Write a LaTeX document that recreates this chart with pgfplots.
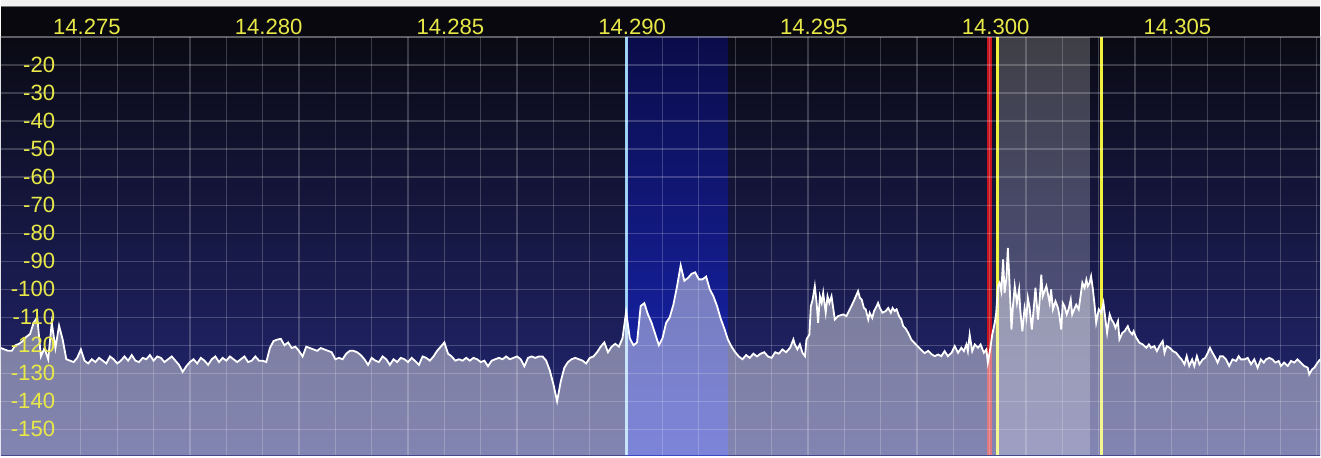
\documentclass[border=0pt]{standalone}
\usepackage{pgfplots}
\pgfplotsset{compat=1.18}
\usepackage{pgfplotstable}
\usepackage{fontspec}
\setmainfont{Liberation Sans}
\definecolor{lab}{RGB}{232,232,72}
\definecolor{bgtop}{RGB}{10,10,20}
\definecolor{bgmid}{RGB}{22,24,70}
\definecolor{bgbot}{RGB}{36,40,120}
\definecolor{btop}{RGB}{10,12,72}
\definecolor{bmid}{RGB}{18,28,150}
\definecolor{bbot}{RGB}{26,40,190}
\definecolor{hdr}{RGB}{8,8,14}
\definecolor{lblue}{RGB}{150,205,245}
\definecolor{mred}{RGB}{200,20,30}
\definecolor{myel}{RGB}{240,240,60}

\pgfplotstableread{
f db
14272.8 -121
14272.9 -121.5
14273.0 -122
14273.1 -122
14273.2 -120
14273.3 -119.5
14273.4 -118.5
14273.5 -117
14273.6 -116
14273.7 -112
14273.8 -110
14273.9 -124
14274.0 -121
14274.1 -125
14274.2 -112
14274.3 -121
14274.4 -113
14274.5 -118
14274.6 -125
14274.7 -125.5
14274.8 -126
14274.9 -124.5
14275.0 -121.5
14275.1 -125.5
14275.2 -126.5
14275.3 -125
14275.4 -126
14275.5 -124.5
14275.6 -125.5
14275.7 -126.5
14275.8 -124
14275.9 -125
14276.0 -126.5
14276.1 -125.5
14276.2 -124
14276.3 -125.5
14276.4 -123.5
14276.5 -125.5
14276.6 -126
14276.7 -124.5
14276.8 -125
14276.9 -123.5
14277.0 -125.5
14277.1 -124
14277.2 -124.5
14277.3 -126
14277.4 -125
14277.5 -124
14277.6 -125.5
14277.7 -127
14277.8 -129.5
14277.9 -127.5
14278.0 -126
14278.1 -125
14278.2 -126.5
14278.3 -124.5
14278.4 -125.5
14278.5 -127
14278.6 -125
14278.7 -124
14278.8 -126
14278.9 -124.5
14279.0 -125.5
14279.1 -124
14279.2 -125
14279.3 -126
14279.4 -125
14279.5 -124
14279.6 -126
14279.7 -125.5
14279.8 -124
14279.9 -125.5
14280.0 -125.5
14280.1 -126
14280.2 -121
14280.3 -118.5
14280.4 -118
14280.5 -117.7
14280.6 -120
14280.7 -119
14280.8 -121
14280.9 -120.5
14281.0 -122
14281.1 -124
14281.2 -120.5
14281.3 -121
14281.4 -121.5
14281.5 -122
14281.6 -121
14281.7 -121.5
14281.8 -122
14281.9 -122.5
14282.0 -125
14282.1 -124.5
14282.2 -125
14282.3 -123
14282.4 -122
14282.5 -122
14282.6 -122.5
14282.7 -123.5
14282.8 -125
14282.9 -127
14283.0 -124.5
14283.1 -125.5
14283.2 -126
14283.3 -124
14283.4 -125
14283.5 -127
14283.6 -125
14283.7 -126
14283.8 -124.5
14283.9 -125
14284.0 -126
14284.1 -124.5
14284.2 -125.7
14284.3 -127
14284.4 -124
14284.5 -124.5
14284.6 -125.5
14284.7 -124
14284.8 -122
14284.9 -120.5
14285.0 -119
14285.1 -123
14285.2 -124
14285.3 -125.5
14285.4 -125
14285.5 -125.5
14285.6 -124.5
14285.7 -125.5
14285.8 -124.5
14285.9 -125
14286.0 -126
14286.1 -125.5
14286.2 -127.5
14286.3 -125.5
14286.4 -125
14286.5 -124.5
14286.6 -125
14286.7 -124
14286.8 -125
14286.9 -124.5
14287.0 -124
14287.1 -125
14287.2 -127.5
14287.3 -124.5
14287.4 -124
14287.5 -124.5
14287.6 -124
14287.7 -124
14287.8 -125.5
14287.9 -129
14288.0 -134
14288.1 -140
14288.2 -133
14288.3 -128
14288.4 -126
14288.5 -125
14288.6 -124.5
14288.7 -125
14288.8 -125.5
14288.9 -126.5
14289.0 -124.5
14289.1 -124
14289.2 -122.5
14289.3 -120.5
14289.4 -119
14289.5 -122.5
14289.6 -120.5
14289.7 -119.5
14289.8 -120.5
14289.9 -117.5
14290.0 -108
14290.1 -117.5
14290.2 -120
14290.3 -119
14290.4 -106
14290.5 -105
14290.6 -109
14290.7 -112
14290.8 -116
14290.9 -120
14291.0 -117.5
14291.1 -112
14291.2 -110
14291.3 -105.5
14291.4 -99
14291.5 -91.5
14291.6 -97
14291.7 -96
14291.8 -94.5
14291.9 -94
14292.0 -96.5
14292.1 -96.5
14292.2 -95.5
14292.3 -100
14292.4 -102.5
14292.5 -106
14292.6 -110.5
14292.7 -114
14292.8 -118
14292.9 -120.5
14293.0 -122.5
14293.1 -124
14293.2 -125
14293.3 -123.5
14293.4 -124.5
14293.5 -123
14293.6 -124
14293.7 -123
14293.8 -122.5
14293.9 -124
14294.0 -124.5
14294.1 -122.5
14294.2 -123
14294.3 -121.5
14294.4 -122.5
14294.51 -120.9
14294.60 -117.9
14294.64 -119.7
14294.71 -121.5
14294.78 -119.7
14294.85 -122.7
14294.92 -123.9
14294.96 -117.9
14295.04 -116.2
14295.08 -106.1
14295.13 -103.7
14295.19 -98.9
14295.24 -104.9
14295.28 -112
14295.33 -102.5
14295.38 -104.9
14295.42 -101.3
14295.49 -108.4
14295.54 -102.5
14295.59 -104.9
14295.65 -102.5
14295.70 -107.2
14295.74 -110.8
14295.83 -109.6
14295.97 -109
14296.06 -109.6
14296.17 -106.7
14296.26 -104.3
14296.32 -102.5
14296.38 -100.7
14296.43 -103.1
14296.48 -103.7
14296.54 -106.7
14296.59 -107.2
14296.66 -110.8
14296.70 -108.4
14296.77 -110.2
14296.82 -107.8
14296.89 -106.1
14296.93 -104.9
14296.98 -106.7
14297.05 -108.4
14297.14 -107.8
14297.21 -106.7
14297.28 -108.4
14297.33 -106.7
14297.39 -107.8
14297.44 -107.2
14297.51 -109.7
14297.57 -110.8
14297.62 -113.1
14297.69 -114.1
14297.76 -115.6
14297.85 -118.1
14297.94 -119.3
14298.03 -120.5
14298.12 -121.7
14298.21 -122.8
14298.31 -122.0
14298.40 -123.2
14298.49 -123.9
14298.58 -123.3
14298.67 -123.9
14298.76 -122.1
14298.85 -123.9
14298.95 -122.7
14299.04 -120.3
14299.13 -122.7
14299.22 -120.9
14299.29 -122.1
14299.36 -119.7
14299.40 -122.1
14299.45 -116.2
14299.52 -122.1
14299.59 -119.7
14299.68 -120.9
14299.75 -119.7
14299.84 -122.7
14299.91 -121.5
14299.95 -126.2
14300.02 -120.9
14300.07 -116.2
14300.14 -112
14300.18 -108.4
14300.23 -98.9
14300.27 -97.8
14300.32 -100.7
14300.37 -89.4
14300.41 -101.3
14300.46 -96
14300.50 -85.3
14300.55 -98.9
14300.60 -114.4
14300.64 -106.1
14300.69 -98.9
14300.75 -104.9
14300.81 -100.1
14300.84 -107.2
14300.90 -115
14300.96 -106.7
14301.01 -110.2
14301.05 -103.1
14301.10 -106.7
14301.16 -114.4
14301.21 -107.2
14301.26 -99.5
14301.33 -110.8
14301.37 -104.9
14301.42 -94.8
14301.46 -102.5
14301.56 -98.9
14301.65 -104.9
14301.69 -100.1
14301.74 -107.2
14301.81 -104.3
14301.88 -106.7
14301.92 -109.6
14301.97 -114.4
14302.01 -104.9
14302.06 -106.1
14302.12 -109
14302.18 -106.7
14302.23 -103.7
14302.27 -109
14302.34 -106.7
14302.38 -105.5
14302.45 -107.2
14302.50 -102.5
14302.55 -97.7
14302.61 -99.5
14302.66 -96.6
14302.70 -98.9
14302.75 -97.7
14302.79 -95.4
14302.84 -100.1
14302.89 -106.1
14302.93 -112
14303.00 -107.2
14303.07 -108.4
14303.13 -104.9
14303.19 -111.4
14303.23 -115.6
14303.30 -109
14303.35 -110.8
14303.41 -112
14303.46 -113.8
14303.53 -111.4
14303.57 -117.9
14303.65 -115.6
14303.71 -115
14303.80 -113.2
14303.85 -115
14303.92 -116.1
14303.96 -115
14304.03 -117.3
14304.12 -119.1
14304.21 -119.7
14304.31 -120.9
14304.38 -119.7
14304.44 -120.9
14304.53 -120.3
14304.60 -122.1
14304.67 -120.3
14304.76 -118.5
14304.81 -122.7
14304.87 -120.3
14304.95 -120.9
14305.04 -122.1
14305.13 -122.7
14305.20 -123.9
14305.28 -125.05
14305.36 -126.8
14305.42 -123.9
14305.49 -127.4
14305.57 -125.05
14305.63 -127.4
14305.70 -123.9
14305.77 -126.8
14305.86 -125.05
14305.93 -124.5
14306.00 -122.7
14306.06 -120.9
14306.13 -122.7
14306.21 -124.5
14306.27 -126.2
14306.34 -123.9
14306.41 -123.9
14306.50 -125.05
14306.59 -127.4
14306.68 -125.05
14306.78 -125.6
14306.85 -123.9
14306.91 -125.05
14307.01 -125.05
14307.10 -124.5
14307.19 -126.8
14307.28 -125.05
14307.37 -128
14307.46 -125.05
14307.54 -126.2
14307.60 -125.05
14307.69 -124.5
14307.78 -125.05
14307.86 -126.2
14307.95 -125.6
14308.01 -127.4
14308.10 -126.2
14308.20 -127.4
14308.29 -125.6
14308.38 -126.2
14308.47 -125.05
14308.56 -126.2
14308.65 -127.4
14308.75 -128
14308.79 -130.4
14308.87 -128.6
14308.93 -128
14309.02 -126.2
14309.09 -125.05
}\spec

\begin{document}
\begin{tikzpicture}
\begin{axis}[
  scale only axis, width=13.21cm, height=4.19cm,
  xmin=14272.8, xmax=14309.09, ymin=-159.3, ymax=-10,
  clip=false, axis on top,
  scaled x ticks=false, scaled y ticks=false,
  axis line style={draw=none}, tick style={draw=none},
  major tick length=0pt, minor tick length=0pt,
  xtick={14275,14280,14285,14290,14295,14300,14305},
  xticklabels={14.275,14.280,14.285,14.290,14.295,14.300,14.305},
  minor xtick={14275,14276,...,14309},
  ytick={-150,-140,...,-20},
  yticklabels={-150,-140,-130,-120,-110,-100,-90,-80,-70,-60,-50,-40,-30,-20},
  xmajorgrids=false, xminorgrids=true, ymajorgrids=true,
  major grid style={draw=white, opacity=0.2, line width=0.012cm},
  minor grid style={draw=white, opacity=0.2, line width=0.012cm},
  xticklabel pos=upper,
  xticklabel style={anchor=base, inner sep=0pt, yshift=0.02cm, xshift=0.06cm},
  yticklabel style={anchor=east, inner sep=0pt, xshift=0.55cm},
  tick label style={text=lab, font=\fontsize{6.3}{7}\selectfont},
  axis background/.style={top color=bgtop, middle color=bgmid, bottom color=bgbot},
]
% header strip
\fill[hdr] (rel axis cs:0,1) rectangle ([yshift=0.31cm]rel axis cs:1,1);
\fill[white!94!black] ([yshift=0.31cm]rel axis cs:0,1) rectangle ([yshift=0.37cm]rel axis cs:1,1);
\draw[black!55, line width=0.01cm] ([yshift=0.31cm]rel axis cs:0,1) -- ([yshift=0.31cm]rel axis cs:1,1);
% bands
\fill[top color=btop, middle color=bmid, bottom color=bbot] (axis cs:14290,-159.3) rectangle (axis cs:14292.8,-10);
\fill[white, opacity=0.22] (axis cs:14300.27,-159.3) rectangle (axis cs:14302.77,-10);
% markers
\draw[lblue, line width=0.03cm] (axis cs:14290,-159.3) -- (axis cs:14290,-10);
\draw[mred, line width=0.05cm] (axis cs:14300,-159.3) -- (axis cs:14300,-10);
\draw[myel, line width=0.035cm] (axis cs:14300.21,-159.3) -- (axis cs:14300.21,-10);
\draw[myel, line width=0.035cm] (axis cs:14303.08,-159.3) -- (axis cs:14303.08,-10);
% spectrum
\addplot[draw=none, fill=white, fill opacity=0.43] table[x=f,y=db]{\spec}
  -- (axis cs:14309.09,-159.3) -- (axis cs:14272.8,-159.3) -- cycle;
\addplot[white, line width=0.018cm] table[x=f,y=db]{\spec};
\draw[white, opacity=0.35, line width=0.012cm] (rel axis cs:0,1) -- (rel axis cs:1,1);
\end{axis}
\end{tikzpicture}
\end{document}
